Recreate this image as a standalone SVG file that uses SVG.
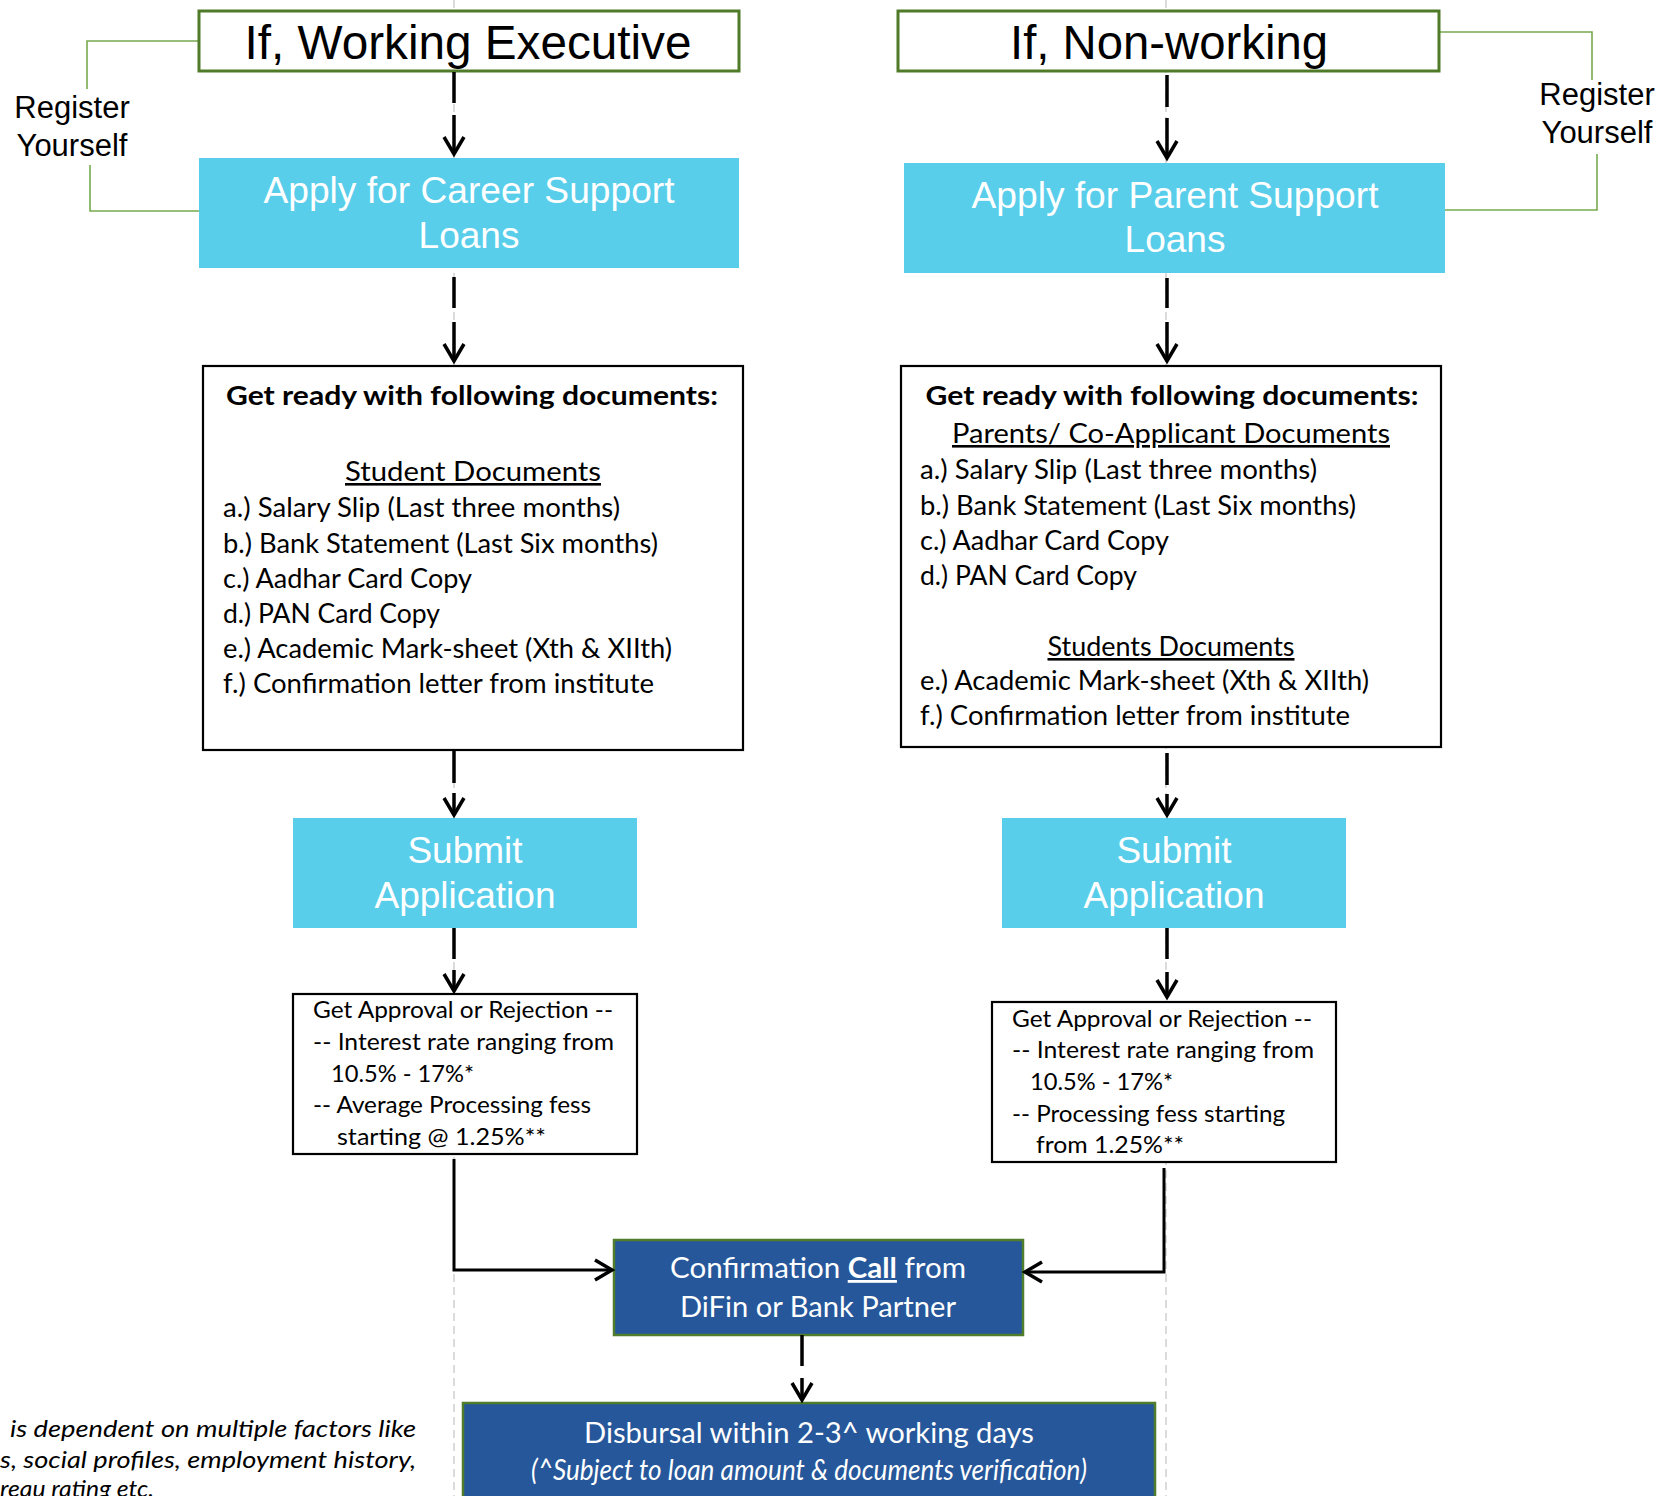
<svg xmlns="http://www.w3.org/2000/svg" width="1671" height="1496" viewBox="0 0 1671 1496">
<style>
.guide{stroke:#c8c8c8;stroke-width:1.3;stroke-dasharray:8 5;fill:none}
.title{fill:#fff;stroke:#4f7a28;stroke-width:3}
.cyan{fill:#59ceeb}
.doc{fill:#fff;stroke:#000;stroke-width:2.2}
.blue{fill:#26579a;stroke:#4f7d2c;stroke-width:2.5}
.brk{fill:none;stroke:#77ab4f;stroke-width:1.6}
.conn{fill:none;stroke:#000;stroke-width:3.5}
.hconn{fill:none;stroke:#000;stroke-width:3}
.arial{font-family:"Liberation Sans",Arial,sans-serif}
.cal{font-family:Lato,"Open Sans",sans-serif}
.t1{font-size:47.5px;fill:#000;text-anchor:middle}
.t2{font-size:37px;fill:#fff;text-anchor:middle}
.reg{font-size:31px;fill:#000;text-anchor:middle}
.hd{font-size:27px;font-weight:bold;fill:#000;text-anchor:middle}
.sub{font-size:26px;fill:#000;text-anchor:middle;text-decoration:underline}
.it{font-size:26px;fill:#000}
.ap{font-size:23px;fill:#000}
.wt{font-size:28px;fill:#fff;text-anchor:middle}
.fn{font-size:23px;font-style:italic;fill:#000}
</style>
<defs>
<marker id="arr" markerUnits="userSpaceOnUse" markerWidth="30" markerHeight="30" viewBox="-20 -15 30 30" refX="0" refY="0" orient="auto" overflow="visible">
<path d="M-17,-10 L0,0 L-17,10" fill="none" stroke="#000" stroke-width="3.5"/>
</marker>
</defs>
<rect x="0" y="0" width="1671" height="1496" fill="#fff"/>
<g id="guides">
<line class="guide" x1="454" y1="0" x2="454" y2="1496"/>
<line class="guide" x1="1166" y1="0" x2="1166" y2="1496"/>
</g>

<g id="register-left">
<polyline class="brk" points="199,41 87,41 87,89"/>
<polyline class="brk" points="90,165 90,211 199,211"/>
<text class="arial reg" x="72" y="118">Register</text>
<text class="arial reg" x="72" y="156">Yourself</text>
</g>
<g id="register-right">
<polyline class="brk" points="1439,32 1592,32 1592,80"/>
<polyline class="brk" points="1597,154 1597,210 1445,210"/>
<text class="arial reg" x="1597" y="105">Register</text>
<text class="arial reg" x="1597" y="143">Yourself</text>
</g>

<g id="working-executive">
<rect class="title" x="199" y="11" width="540" height="60"/>
<text class="arial t1" x="468" y="59" textLength="447" lengthAdjust="spacingAndGlyphs">If, Working Executive</text>
</g>
<g id="non-working">
<rect class="title" x="898" y="11" width="541" height="60"/>
<text class="arial t1" x="1169" y="59" textLength="318" lengthAdjust="spacingAndGlyphs">If, Non-working</text>
</g>

<g id="career-loans">
<rect class="cyan" x="199" y="158" width="540" height="110"/>
<text class="arial t2" x="469" y="203" textLength="411" lengthAdjust="spacingAndGlyphs">Apply for Career Support</text>
<text class="arial t2" x="469" y="248">Loans</text>
</g>
<g id="parent-loans">
<rect class="cyan" x="904" y="163" width="541" height="110"/>
<text class="arial t2" x="1175" y="208" textLength="407" lengthAdjust="spacingAndGlyphs">Apply for Parent Support</text>
<text class="arial t2" x="1175" y="252">Loans</text>
</g>

<g id="docs-left">
<rect class="doc" x="203" y="366" width="540" height="384"/>
<text class="cal hd" x="472" y="405" textLength="492" lengthAdjust="spacingAndGlyphs">Get ready with following documents:</text>
<text class="cal sub" x="473" y="481" textLength="256" lengthAdjust="spacingAndGlyphs">Student Documents</text>
<text class="cal it" x="223" y="517" textLength="397" lengthAdjust="spacingAndGlyphs">a.) Salary Slip (Last three months)</text>
<text class="cal it" x="223" y="553" textLength="435" lengthAdjust="spacingAndGlyphs">b.) Bank Statement (Last Six months)</text>
<text class="cal it" x="223" y="588" textLength="249" lengthAdjust="spacingAndGlyphs">c.) Aadhar Card Copy</text>
<text class="cal it" x="223" y="623" textLength="217" lengthAdjust="spacingAndGlyphs">d.) PAN Card Copy</text>
<text class="cal it" x="223" y="658" textLength="449" lengthAdjust="spacingAndGlyphs">e.) Academic Mark-sheet (Xth &amp; XIIth)</text>
<text class="cal it" x="223" y="693" textLength="431" lengthAdjust="spacingAndGlyphs">f.) Confirmation letter from institute</text>
</g>
<g id="docs-right">
<rect class="doc" x="901" y="366" width="540" height="381"/>
<text class="cal hd" x="1172" y="405" textLength="493" lengthAdjust="spacingAndGlyphs">Get ready with following documents:</text>
<text class="cal sub" x="1171" y="443" textLength="438" lengthAdjust="spacingAndGlyphs">Parents/ Co-Applicant Documents</text>
<text class="cal it" x="920" y="479" textLength="397" lengthAdjust="spacingAndGlyphs">a.) Salary Slip (Last three months)</text>
<text class="cal it" x="920" y="515" textLength="436" lengthAdjust="spacingAndGlyphs">b.) Bank Statement (Last Six months)</text>
<text class="cal it" x="920" y="550" textLength="249" lengthAdjust="spacingAndGlyphs">c.) Aadhar Card Copy</text>
<text class="cal it" x="920" y="585" textLength="217" lengthAdjust="spacingAndGlyphs">d.) PAN Card Copy</text>
<text class="cal sub" x="1171" y="656" textLength="247" lengthAdjust="spacingAndGlyphs">Students Documents</text>
<text class="cal it" x="920" y="690" textLength="449" lengthAdjust="spacingAndGlyphs">e.) Academic Mark-sheet (Xth &amp; XIIth)</text>
<text class="cal it" x="920" y="725" textLength="430" lengthAdjust="spacingAndGlyphs">f.) Confirmation letter from institute</text>
</g>

<g id="submit-left">
<rect class="cyan" x="293" y="818" width="344" height="110"/>
<text class="arial t2" x="465" y="863">Submit</text>
<text class="arial t2" x="465" y="908">Application</text>
</g>
<g id="submit-right">
<rect class="cyan" x="1002" y="818" width="344" height="110"/>
<text class="arial t2" x="1174" y="863">Submit</text>
<text class="arial t2" x="1174" y="908">Application</text>
</g>

<g id="approval-left">
<rect class="doc" x="293" y="994" width="344" height="160"/>
<text class="cal ap" x="313" y="1018" textLength="300" lengthAdjust="spacingAndGlyphs">Get Approval or Rejection --</text>
<text class="cal ap" x="313" y="1050" textLength="301" lengthAdjust="spacingAndGlyphs">-- Interest rate ranging from</text>
<text class="cal ap" x="331" y="1082" textLength="143" lengthAdjust="spacingAndGlyphs">10.5% - 17%*</text>
<text class="cal ap" x="313" y="1113" textLength="278" lengthAdjust="spacingAndGlyphs">-- Average Processing fess</text>
<text class="cal ap" x="337" y="1145" textLength="209" lengthAdjust="spacingAndGlyphs">starting @ 1.25%**</text>
</g>
<g id="approval-right">
<rect class="doc" x="992" y="1002" width="344" height="160"/>
<text class="cal ap" x="1012" y="1027" textLength="300" lengthAdjust="spacingAndGlyphs">Get Approval or Rejection --</text>
<text class="cal ap" x="1012" y="1058" textLength="302" lengthAdjust="spacingAndGlyphs">-- Interest rate ranging from</text>
<text class="cal ap" x="1030" y="1090" textLength="143" lengthAdjust="spacingAndGlyphs">10.5% - 17%*</text>
<text class="cal ap" x="1012" y="1122" textLength="273" lengthAdjust="spacingAndGlyphs">-- Processing fess starting</text>
<text class="cal ap" x="1036" y="1153" textLength="148" lengthAdjust="spacingAndGlyphs">from 1.25%**</text>
</g>

<g id="confirmation">
<rect class="blue" x="614" y="1240" width="409" height="95"/>
<text class="cal wt" x="818" y="1278" textLength="296" lengthAdjust="spacingAndGlyphs">Confirmation <tspan font-weight="bold" text-decoration="underline">Call</tspan> from</text>
<text class="cal wt" x="818" y="1317" textLength="276" lengthAdjust="spacingAndGlyphs">DiFin or Bank Partner</text>
</g>
<g id="disbursal">
<rect class="blue" x="463" y="1403" width="692" height="110"/>
<text class="cal wt" x="809" y="1443" textLength="450" lengthAdjust="spacingAndGlyphs">Disbursal within 2-3^ working days</text>
<text class="cal wt" x="809" y="1480" font-size="24" font-style="italic" textLength="556" lengthAdjust="spacingAndGlyphs">(^Subject to loan amount &amp; documents verification)</text>
</g>

<g id="footnote">
<text class="cal fn" x="10" y="1437" textLength="406" lengthAdjust="spacingAndGlyphs">is dependent on multiple factors like</text>
<text class="cal fn" x="0" y="1468" textLength="416" lengthAdjust="spacingAndGlyphs">s, social profiles, employment history,</text>
<text class="cal fn" x="0" y="1497" textLength="154" lengthAdjust="spacingAndGlyphs">reau rating etc.</text>
</g>

<g id="connectors">
<line class="conn" x1="454" y1="72" x2="454" y2="103"/>
<line class="conn" x1="454" y1="115" x2="454" y2="154" marker-end="url(#arr)"/>
<line class="conn" x1="454" y1="277" x2="454" y2="308"/>
<line class="conn" x1="454" y1="322" x2="454" y2="361" marker-end="url(#arr)"/>
<line class="conn" x1="454" y1="750" x2="454" y2="783"/>
<line class="conn" x1="454" y1="793" x2="454" y2="815" marker-end="url(#arr)"/>
<line class="conn" x1="454" y1="928" x2="454" y2="959"/>
<line class="conn" x1="454" y1="970" x2="454" y2="991" marker-end="url(#arr)"/>

<line class="conn" x1="1167" y1="75" x2="1167" y2="107"/>
<line class="conn" x1="1167" y1="118" x2="1167" y2="158" marker-end="url(#arr)"/>
<line class="conn" x1="1167" y1="278" x2="1167" y2="308"/>
<line class="conn" x1="1167" y1="322" x2="1167" y2="361" marker-end="url(#arr)"/>
<line class="conn" x1="1167" y1="753" x2="1167" y2="785"/>
<line class="conn" x1="1167" y1="794" x2="1167" y2="815" marker-end="url(#arr)"/>
<line class="conn" x1="1167" y1="928" x2="1167" y2="959"/>
<line class="conn" x1="1167" y1="972" x2="1167" y2="997" marker-end="url(#arr)"/>

<polyline class="hconn" points="454,1159 454,1270 612,1270" marker-end="url(#arr)"/>
<polyline class="hconn" points="1164,1168 1164,1272 1025,1272" marker-end="url(#arr)"/>

<line class="conn" x1="802" y1="1335" x2="802" y2="1366"/>
<line class="conn" x1="802" y1="1378" x2="802" y2="1400" marker-end="url(#arr)"/>
</g>
</svg>
